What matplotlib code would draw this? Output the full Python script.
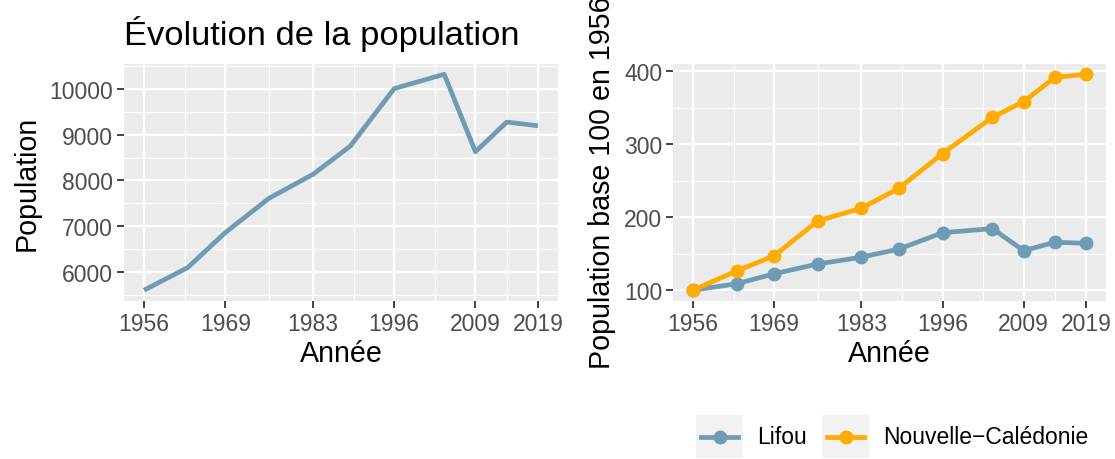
import matplotlib
matplotlib.use("Agg")
import matplotlib.pyplot as plt
from matplotlib.patches import Rectangle
from matplotlib.lines import Line2D

plt.rcParams['font.family'] = ['Liberation Sans', 'DejaVu Sans']

# census years
annees = [1956, 1963, 1969, 1976, 1983, 1989, 1996, 2004, 2009, 2014, 2019]
# Lifou population
pop_lifou = [5600, 6095, 6860, 7610, 8131, 8752, 10007, 10320, 8627, 9275, 9195]
# Nouvelle-Calédonie, base 100 in 1956
indice_nc = [100, 126.4, 147, 194.8, 212.2, 239.5, 287, 336.7, 358, 391.3, 395.5]

x_ticks = [1956, 1969, 1983, 1996, 2009, 2019]
y_ticks_left = [6000, 7000, 8000, 9000, 10000]
y_ticks_right = [100, 200, 300, 400]

indice_lifou = [100.0 * p / pop_lifou[0] for p in pop_lifou]

c_lifou = '#6f9cb4'
c_nc = '#ffab00'
W, H = 1115, 460

fig = plt.figure(figsize=(W / 100, H / 100), dpi=100)


def px_axes(x0, y0, x1, y1):
    # pixel box (top-left origin) -> figure fraction
    return fig.add_axes([x0 / W, 1 - y1 / H, (x1 - x0) / W, (y1 - y0) / H])


def gg_style(ax, yt):
    ax.set_facecolor('#EBEBEB')
    for s in ax.spines.values():
        s.set_visible(False)
    ax.set_xticks(x_ticks)
    ax.set_yticks(yt)
    mx = [(a + b) / 2 for a, b in zip(x_ticks[:-1], x_ticks[1:])]
    step = yt[1] - yt[0]
    my = [yt[0] - step / 2] + [v + step / 2 for v in yt]
    for v in mx:
        ax.axvline(v, color='white', lw=0.8, zorder=0.5)
    for v in my:
        ax.axhline(v, color='white', lw=0.8, zorder=0.5)
    ax.grid(True, color='white', lw=1.6, zorder=0.6)
    ax.set_axisbelow(True)
    ax.tick_params(colors='#333333', labelcolor='#4D4D4D', labelsize=16.5,
                   length=5, width=1.3, pad=3)
    ax.set_xlabel('Année', fontsize=20.6, labelpad=3)


def expand(lo, hi):
    d = (hi - lo) * 0.05
    return lo - d, hi + d


ax1 = px_axes(124.3, 64.5, 557.7, 302)
ax1.plot(annees, pop_lifou, color=c_lifou, lw=3.4, solid_capstyle='butt', zorder=3)
gg_style(ax1, y_ticks_left)
ax1.set_xlim(*expand(min(annees), max(annees)))
ax1.set_ylim(*expand(min(pop_lifou), max(pop_lifou)))
ax1.set_ylabel('Population', fontsize=20.6, labelpad=6)
ax1.set_title('Évolution de la population', fontsize=24.8, loc='left', pad=14)

ax2 = px_axes(673.3, 64.5, 1105.7, 302)
ax2.plot(annees, indice_lifou, color=c_lifou, lw=3.4, marker='o', ms=9, zorder=3)
ax2.plot(annees, indice_nc, color=c_nc, lw=3.4, marker='o', ms=9, zorder=4)
gg_style(ax2, y_ticks_right)
ax2.set_xlim(*expand(min(annees), max(annees)))
ax2.set_ylim(*expand(min(indice_nc + indice_lifou), max(indice_nc + indice_lifou)))
ax2.set_ylabel('Population base 100 en 1956', fontsize=20.6, labelpad=6)

# legend at bottom right
noms = ['Lifou', 'Nouvelle\u2212Calédonie']
couleurs = [c_lifou, c_nc]
for nom, col, (kx, tx) in zip(noms, couleurs, [(696, 757), (822, 883)]):
    fig.patches.append(Rectangle((kx / W, 1 - 459 / H), 47 / W, 43 / H,
                                 transform=fig.transFigure, facecolor='#F2F2F2',
                                 edgecolor='none'))
    fig.lines.append(Line2D([(kx + 5) / W, (kx + 42) / W], [1 - 438 / H] * 2,
                            transform=fig.transFigure, color=col, lw=3.4))
    fig.lines.append(Line2D([(kx + 23.5) / W], [1 - 438 / H], transform=fig.transFigure,
                            color=col, marker='o', ms=9))
    fig.text(tx / W, 1 - 438 / H, nom, fontsize=16.5, va='center', ha='left')

fig.savefig('out.png', dpi=100)
